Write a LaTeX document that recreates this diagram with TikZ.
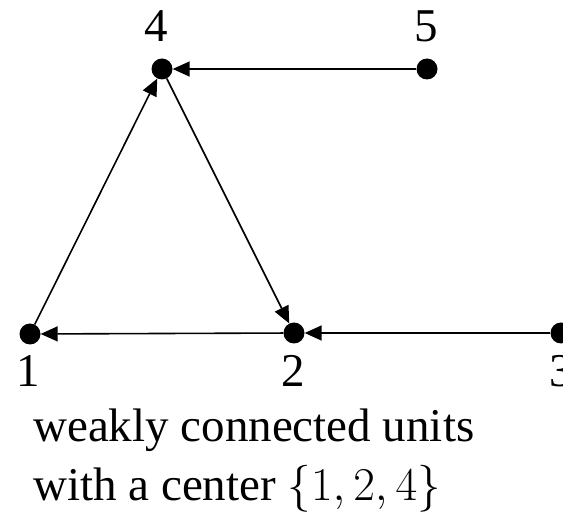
\documentclass[tikz,border=0pt]{standalone}
\usepackage{fix-cm}
\usepackage{fontspec}
\setmainfont{Liberation Serif}
\usetikzlibrary{arrows.meta}
\begin{document}
\begin{tikzpicture}[x=1pt,y=-1pt,
  dot/.style={circle,fill=black,inner sep=0pt,minimum size=21pt},
  lab/.style={inner sep=0pt,font=\fontsize{47}{47}\selectfont},
  txt/.style={inner sep=0pt,anchor=base west,font=\fontsize{47}{47}\selectfont},
  edge/.style={line width=1.6pt,-{Triangle[length=17pt,width=15pt]}}]
\useasboundingbox (0,0) rectangle (563,513);
\node[dot] (n4) at (162,69) {};
\node[dot] (n5) at (427,69) {};
\node[dot] (n1) at (30,334) {};
\node[dot] (n2) at (294,333) {};
\node[dot] (n3) at (561,333) {};
\node[lab] (l4) at (156,26) {4};
\node[lab] (l5) at (426,26) {5};
\node[lab] (l1) at (28,371) {1};
\node[lab] (l2) at (293,371) {2};
\node[lab] (l3) at (561,371) {3};
\draw[edge] (n5) -- (n4);
\draw[edge] (n1) -- (n4);
\draw[edge] (n4) -- (n2);
\draw[edge] (n3) -- (n2);
\draw[edge] (n2) -- (n1);
\node[txt] (t1) at (33,442) {weakly connected units};
\node[txt] (t2) at (33,500) {with a center $\{1,2,4\}$};
\end{tikzpicture}
\end{document}
